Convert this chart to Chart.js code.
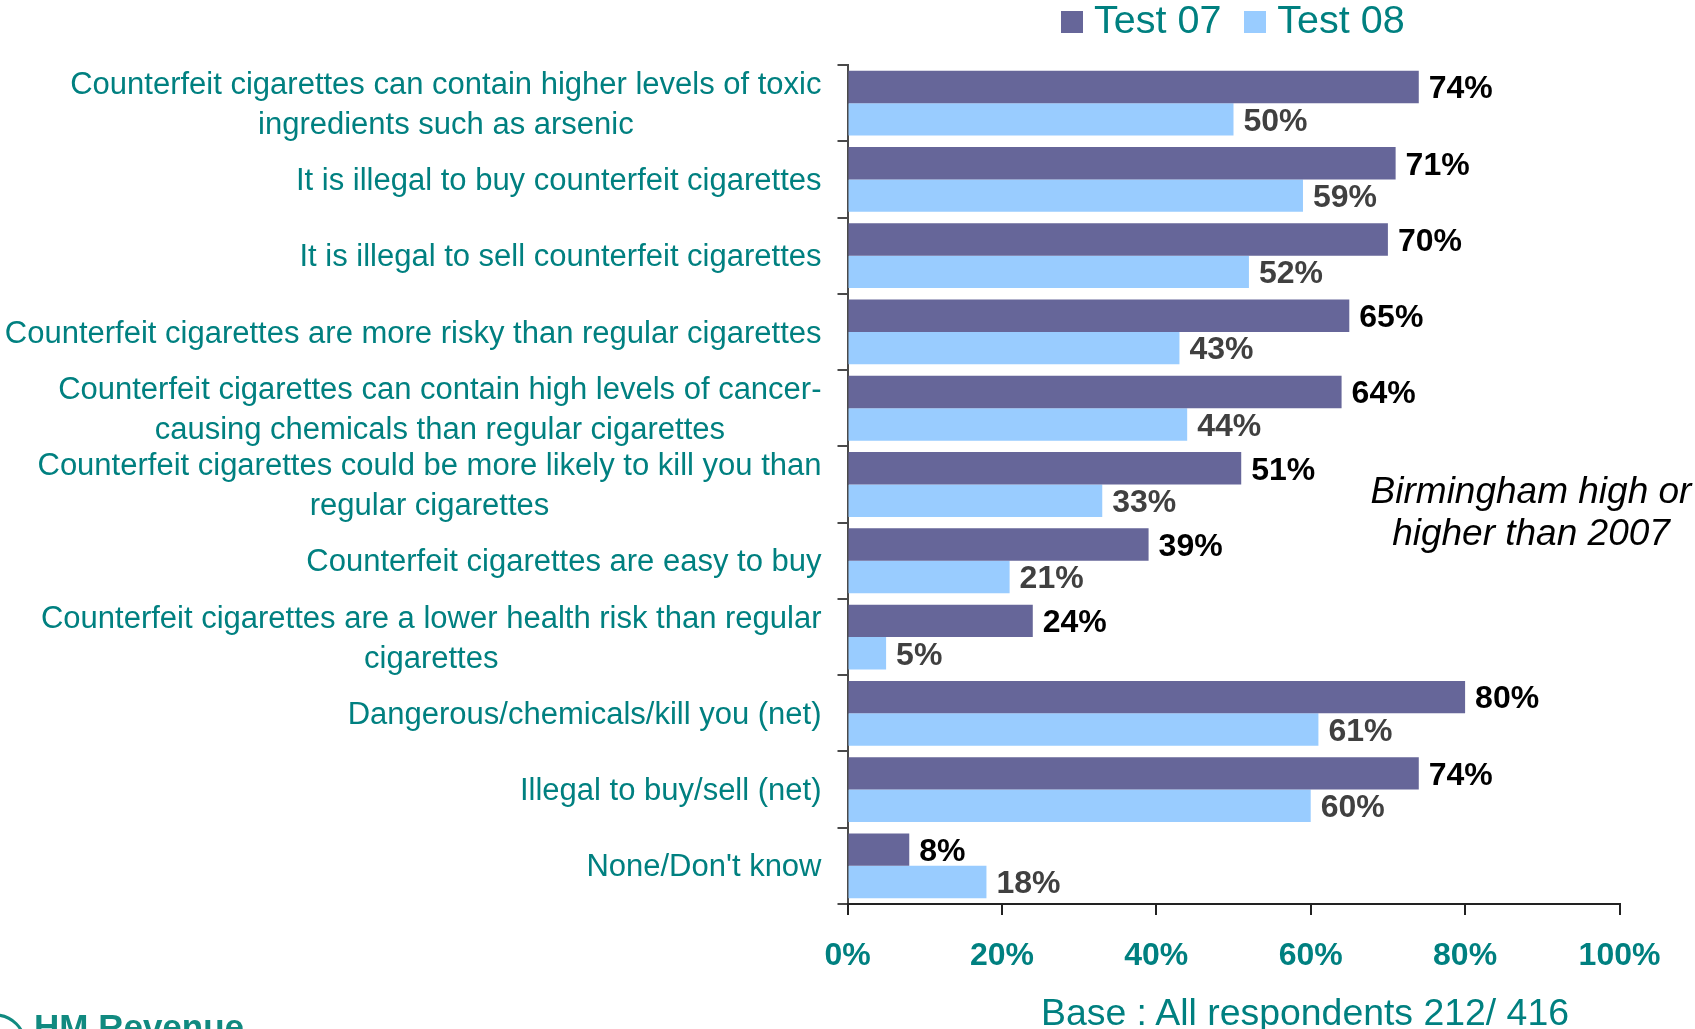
<!DOCTYPE html>
<html>
<head>
<meta charset="utf-8">
<title>Awareness of counterfeit cigarette risks</title>
<script src="https://cdn.jsdelivr.net/npm/chart.js@4/dist/chart.umd.min.js"></script>
<style>
  html, body { margin: 0; padding: 0; background: #fff; overflow: hidden; }
  body { width: 1695px; height: 1029px; position: relative; font-family: "Liberation Sans", Arial, sans-serif; }
  #wrap { position: absolute; left: 0; top: 0; width: 1695px; height: 1029px; }
  .legend { position: absolute; top: 0; left: 1061px; height: 40px; display: flex; align-items: flex-start; }
  .legend .sw { width: 22px; height: 22px; margin-top: 11px; margin-right: 11px; }
  .legend .tx { font-size: 39.5px; line-height: 39.5px; color: #008080; margin-top: 0px; margin-right: 23px; white-space: nowrap; }
  .note { position: absolute; left: 1331px; top: 470px; width: 400px; text-align: center; font-size: 37px; line-height: 42px; font-style: italic; color: #000; }
  .base { position: absolute; left: 1041px; top: 991px; font-size: 37.4px; line-height: 42px; color: #008080; white-space: nowrap; }
  .logo { position: absolute; left: 34px; top: 1007px; font-size: 35px; line-height: 40px; font-weight: bold; color: #118a80; white-space: nowrap; }
  .logo-ring { position: absolute; left: 0; top: 990px; }
</style>
</head>
<body>
<div id="wrap"><canvas id="chart" width="1695" height="1029"></canvas></div>

<div class="legend">
  <div class="sw" style="background:#666699"></div><div class="tx">Test 07</div>
  <div class="sw" style="background:#99CCFF"></div><div class="tx">Test 08</div>
</div>
<div class="note">Birmingham high or<br>higher than 2007</div>
<div class="base">Base : All respondents 212/ 416</div>
<svg class="logo-ring" width="40" height="39"><circle cx="-5" cy="55" r="30" fill="none" stroke="#118a80" stroke-width="3"/></svg>
<div class="logo">HM Revenue</div>

<script>
// Statements shown on the category axis (one entry per line of text)
const categories = [
  ["Counterfeit cigarettes can contain higher levels of toxic", "ingredients such as arsenic"],
  ["It is illegal to buy counterfeit cigarettes"],
  ["It is illegal to sell counterfeit cigarettes"],
  ["Counterfeit cigarettes are more risky than regular cigarettes"],
  ["Counterfeit cigarettes can contain high levels of cancer-", "causing chemicals than regular cigarettes"],
  ["Counterfeit cigarettes could be more likely to kill you than", "regular cigarettes"],
  ["Counterfeit cigarettes are easy to buy"],
  ["Counterfeit cigarettes are a lower health risk than regular", "cigarettes"],
  ["Dangerous/chemicals/kill you (net)"],
  ["Illegal to buy/sell (net)"],
  ["None/Don't know"]
];

// Percentage agreeing, by wave
const test07 = [74, 71, 70, 65, 64, 51, 39, 24, 80, 74, 8];
const test08 = [50, 59, 52, 43, 44, 33, 21, 5, 61, 60, 18];

// Value axis ticks
const xTicks = [0, 20, 40, 60, 80, 100];

const TEAL = "#008080";
const FONT = "'Liberation Sans', Arial, sans-serif";
const AXIS = "#4a4a4a";

// Wrapped category labels, each line centred within its block, block right-aligned to the axis
const categoryLabels = {
  id: "categoryLabels",
  afterDraw(chart) {
    const ctx = chart.ctx;
    const y = chart.scales.y;
    const right = y.right - 26;
    const lh = 40;
    ctx.save();
    ctx.font = "31px " + FONT;
    ctx.fillStyle = TEAL;
    ctx.textAlign = "center";
    ctx.textBaseline = "middle";
    categories.forEach((lines, i) => {
      const cy = y.getPixelForValue(i) + 2;
      const w = Math.max(...lines.map(l => ctx.measureText(l).width));
      const cx = right - w / 2;
      lines.forEach((l, j) => {
        ctx.fillText(l, cx, cy + (j - (lines.length - 1) / 2) * lh);
      });
    });
    ctx.restore();
  }
};

// Percent labels at the end of each bar
const valueLabels = {
  id: "valueLabels",
  afterDatasetsDraw(chart) {
    const ctx = chart.ctx;
    ctx.save();
    ctx.font = "bold 32px " + FONT;
    ctx.textAlign = "left";
    ctx.textBaseline = "middle";
    chart.data.datasets.forEach((ds, di) => {
      const meta = chart.getDatasetMeta(di);
      ctx.fillStyle = di === 0 ? "#000000" : "#404040";
      meta.data.forEach((bar, i) => {
        ctx.fillText(ds.data[i] + "%", bar.x + 10, bar.y + 2.5);
      });
    });
    ctx.restore();
  }
};

new Chart(document.getElementById("chart"), {
  type: "bar",
  data: {
    labels: categories.map(l => l.join(" ")),
    datasets: [
      { label: "Test 07", data: test07, backgroundColor: "#666699", categoryPercentage: 0.85, barPercentage: 1.0 },
      { label: "Test 08", data: test08, backgroundColor: "#99CCFF", categoryPercentage: 0.85, barPercentage: 1.0 }
    ]
  },
  options: {
    indexAxis: "y",
    responsive: false,
    animation: false,
    layout: { padding: { top: 65, right: 75.5, left: 0, bottom: 0 } },
    plugins: { legend: { display: false }, tooltip: { enabled: false } },
    scales: {
      y: {
        ticks: { display: false },
        grid: { display: true, drawOnChartArea: false, drawTicks: true, tickLength: 10, offset: true, color: AXIS, lineWidth: 2 },
        border: { display: true, color: AXIS, width: 2 },
        afterFit(scale) { scale.width = 847.5; }
      },
      x: {
        min: 0,
        max: 100,
        afterBuildTicks(scale) { scale.ticks = xTicks.map(v => ({ value: v })); },
        ticks: {
          callback: v => v + "%",
          font: { family: FONT, size: 32, weight: "bold" },
          color: TEAL,
          padding: 22,
          maxRotation: 0
        },
        grid: { display: true, drawOnChartArea: false, drawTicks: true, tickLength: 11, color: "#222", lineWidth: 2 },
        border: { display: true, color: "#222", width: 2 },
        afterFit(scale) { scale.height = 125; }
      }
    }
  },
  plugins: [categoryLabels, valueLabels]
});
</script>
</body>
</html>
